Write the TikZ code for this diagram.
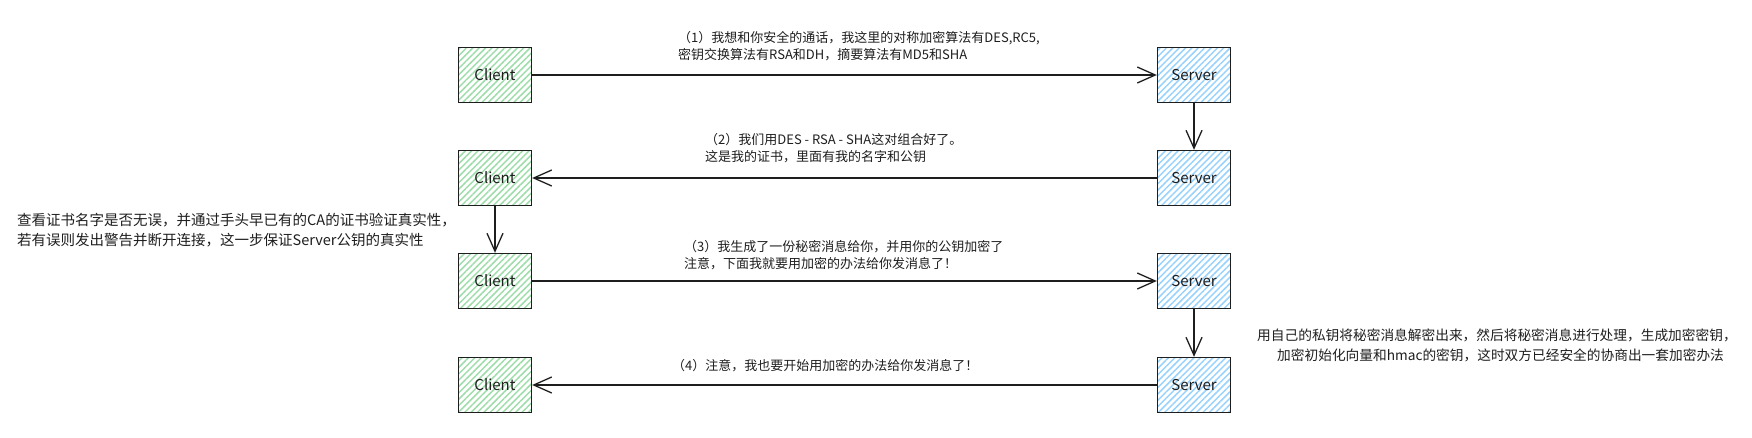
\documentclass[tikz,border=0pt]{standalone}
\usepackage{fontspec}
\setmainfont{Noto Sans CJK SC}
\usetikzlibrary{arrows.meta,patterns.meta}
\definecolor{ink}{HTML}{1E1E1E}
\definecolor{cgreen}{HTML}{9EDDAA}
\definecolor{sblue}{HTML}{99D2FC}
\begin{document}
\begin{tikzpicture}[x=1pt,y=-1pt,
  box/.style={draw=ink, line width=1.3pt, minimum width=73pt, minimum height=55pt, inner sep=0pt, text=ink, font=\fontsize{15}{18}\selectfont},
  cbox/.style={box, pattern={Lines[angle=45,distance=4.5pt,line width=1.5pt]}, pattern color=cgreen},
  sbox/.style={box, pattern={Lines[angle=45,distance=4.5pt,line width=1.5pt]}, pattern color=sblue},
  msg/.style={draw=ink, line width=1.3pt, -{Straight Barb[length=18pt,width=16pt,line width=1.3pt]}},
  lab/.style={anchor=west, align=left, font=\fontsize{13}{17}\selectfont, text=ink, inner sep=0pt},
  note/.style={anchor=west, align=left, font=\fontsize{14.5}{20}\selectfont, text=ink, inner sep=0pt}]
\useasboundingbox (0,0) rectangle (1752,438);
% boxes
\node[cbox] (c1) at (495,75) {Client};
\node[sbox] (s1) at (1194,75) {Server};
\node[cbox] (c2) at (495,178) {Client};
\node[sbox] (s2) at (1194,178) {Server};
\node[cbox] (c3) at (495,281) {Client};
\node[sbox] (s3) at (1194,281) {Server};
\node[cbox] (c4) at (495,385) {Client};
\node[sbox] (s4) at (1194,385) {Server};
% connectors
\draw[msg] (c1) -- (s1);
\draw[msg] (s1) -- (s2);
\draw[msg] (s2) -- (c2);
\draw[msg] (c2) -- (c3);
\draw[msg] (c3) -- (s3);
\draw[msg] (s3) -- (s4);
\draw[msg] (s4) -- (c4);
% labels
\node[lab] (t1) at (678,46.5) {（1）我想和你安全的通话，我这里的对称加密算法有DES,RC5,\\密钥交换算法有RSA和DH，摘要算法有MD5和SHA};
\node[lab] (t2) at (705,148) {（2）我们用DES - RSA - SHA这对组合好了。\\这是我的证书，里面有我的名字和公钥};
\node[lab] (t3) at (684,255) {（3）我生成了一份秘密消息给你，并用你的公钥加密了\\注意，下面我就要用加密的办法给你发消息了！};
\node[lab] (t4) at (672,366) {（4）注意，我也要开始用加密的办法给你发消息了！};
\node[note] (n1) at (17,230) {查看证书名字是否无误，并通过手头早已有的CA的证书验证真实性，\\若有误则发出警告并断开连接，这一步保证Server公钥的真实性};
\node[note, font=\fontsize{13.7}{20}\selectfont] (n2) at (1257,345) {用自己的私钥将秘密消息解密出来，然后将秘密消息进行处理，生成加密密钥，\\\hspace*{20pt}加密初始化向量和hmac的密钥，这时双方已经安全的协商出一套加密办法};
\end{tikzpicture}
\end{document}
